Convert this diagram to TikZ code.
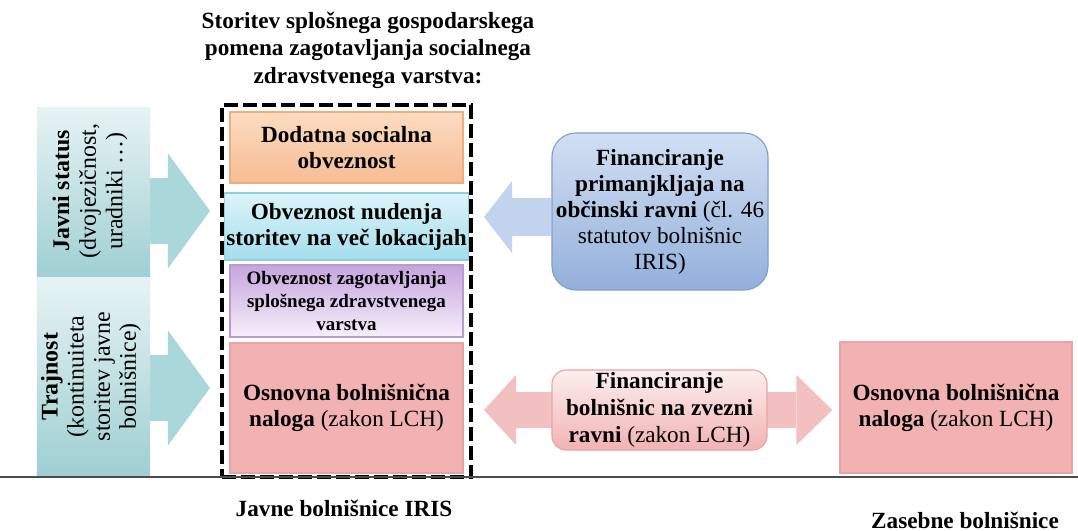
\documentclass[tikz,border=0pt]{standalone}
\usepackage{fontspec}
\setmainfont{Liberation Serif}
\usetikzlibrary{arrows.meta,backgrounds}

\definecolor{tealsv}{HTML}{E6F3F4}
\definecolor{tealtm}{HTML}{9FCFD2}
\definecolor{tealpu}{HTML}{AAD8DA}
\definecolor{oranzsv}{HTML}{FCDCC2}
\definecolor{oranztm}{HTML}{F6BC92}
\definecolor{oranzro}{HTML}{EDAE80}
\definecolor{cyansv}{HTML}{DDF3F9}
\definecolor{cyantm}{HTML}{A4DEEC}
\definecolor{cyanro}{HTML}{8ECFE2}
\definecolor{vijsv}{HTML}{F6F0FA}
\definecolor{vijtm}{HTML}{C6A4DE}
\definecolor{vijro}{HTML}{B89CD0}
\definecolor{rozsv}{HTML}{FCEFEF}
\definecolor{roztm}{HTML}{F2B2B2}
\definecolor{rozro}{HTML}{E8A4A4}
\definecolor{rozpu}{HTML}{F2C0C0}
\definecolor{modsv}{HTML}{D2DFF3}
\definecolor{modtm}{HTML}{93B0DA}
\definecolor{modro}{HTML}{809FD0}
\definecolor{modpu}{HTML}{C2D3EE}

\begin{document}
\begin{tikzpicture}[x=0.025cm, y=-0.025cm,
  okvir/.style={align=center, inner sep=1pt, line width=0.8pt,
    font=\fontsize{16.5}{18.5}\selectfont},
  napis/.style={align=center, font=\bfseries\fontsize{16.5}{19.5}\selectfont},
  tealpuscica/.style={line width=1.65cm, color=tealpu, shorten >=0.25cm,
    -{Triangle[length=1.05cm 0 0, width=2.875cm 0 0, line width=0pt 0 0]}},
  modrapuscica/.style={line width=0.95cm, color=modpu, shorten >=0.275cm,
    -{Triangle[length=0.7cm 0 0, width=1.8cm 0 0, line width=0pt 0 0]}},
  rozapuscica/.style={line width=0.875cm, color=rozpu,
    shorten <=0.275cm, shorten >=0.175cm,
    {Triangle[length=0.8cm 0 0, width=1.75cm 0 0, line width=0pt 0 0]}-{Triangle[length=0.9cm 0 0, width=1.75cm 0 0, line width=0pt 0 0]}}]
	\useasboundingbox (0,0) rectangle (1078,531);

	% Naslov
	\node[napis] (naslov) at (368,50) {Storitev splošnega gospodarskega\\pomena zagotavljanja socialnega\\zdravstvenega varstva:};

	% Javni status in trajnost
	\node[minimum width=2.825cm, minimum height=4.25cm, top color=tealsv, bottom color=tealtm] (javni) at (93.5,193) {};
	\node[okvir, rotate=90, font=\fontsize{17}{19}\selectfont] (javnitxt) at (90,191) {\textbf{Javni status}\\(dvojezičnost,\\uradniki …)};
	\node[minimum width=2.825cm, minimum height=4.925cm, top color=tealsv, bottom color=tealtm] (trajnost) at (93.5,376.5) {};
	\node[okvir, rotate=90, font=\fontsize{17}{18.5}\selectfont] (trajnosttxt) at (91,376.5) {\textbf{Trajnost}\\(kontinuiteta\\storitev javne\\bolnišnice)};

	% Obveznosti javnih bolnisnic
	\node[okvir, draw=oranzro, top color=oranzsv, bottom color=oranztm, minimum width=5.825cm, minimum height=1.775cm] (dodatna) at (346.5,147.5) {\textbf{Dodatna socialna}\\\textbf{obveznost}};
	\node[okvir, draw=cyanro, top color=cyansv, bottom color=cyantm, minimum width=5.825cm, minimum height=1.675cm] (lokacije) at (346.5,226.5) {\textbf{Obveznost nudenja}\\\textbf{storitev na več lokacijah}};
	\node[okvir, draw=vijro, top color=vijtm, bottom color=vijsv, minimum width=5.825cm, minimum height=1.8cm, font=\fontsize{13.5}{16.5}\selectfont] (splosno) at (346.5,301) {\textbf{Obveznost zagotavljanja}\\\textbf{splošnega zdravstvenega}\\\textbf{varstva}};
	\node[okvir, draw=rozro, top color=roztm, middle color=rozsv, bottom color=roztm, minimum width=5.825cm, minimum height=3.25cm] (osnovna) at (346.5,408) {\textbf{Osnovna bolnišnična}\\\textbf{naloga} (zakon LCH)};

	% Crtkani okvir
	\node[draw, line width=2.8pt, dash pattern=on 10pt off 3.5pt, minimum width=6.225cm, minimum height=9.3cm] (iris) at (346.5,291) {};

	% Financiranje
	\node[okvir, draw=modro, top color=modsv, bottom color=modtm, rounded corners=0.6cm, minimum width=5.4cm, minimum height=3.925cm] (obcina) at (660,211.5) {\textbf{Financiranje}\\\textbf{primanjkljaja na}\\\textbf{občinski ravni} (čl. 46\\statutov bolnišnic\\IRIS)};
	\node[okvir, draw=rozro, top color=rozsv, bottom color=roztm, rounded corners=0.35cm, minimum width=5.375cm, minimum height=2cm, font=\fontsize{16.5}{19}\selectfont] (zvezna) at (659.5,410) {\textbf{Financiranje}\\\textbf{bolnišnic na zvezni}\\\textbf{ravni} (zakon LCH)};

	% Zasebne bolnisnice
	\node[okvir, draw=rozro, top color=roztm, middle color=rozsv, bottom color=roztm, minimum width=5.8cm, minimum height=3.275cm] (zasebna) at (956,407.5) {\textbf{Osnovna bolnišnična}\\\textbf{naloga} (zakon LCH)};

	% Puscice
	\begin{scope}[on background layer]
		\draw[tealpuscica] (javni.east |- 0,211) -- (iris.west |- 0,211);
		\draw[tealpuscica] (trajnost.east |- 0,388) -- (iris.west |- 0,388);
		\draw[modrapuscica] (obcina.west |- 0,217) -- (iris.east |- 0,217);
		\draw[rozapuscica] (iris.east |- 0,410) -- (zasebna.west |- 0,410);
	\end{scope}

	% Osnovna crta in oznake
	\draw[line width=1.6pt, black!70] (0,477) -- (1078,477);
	\node[napis] (javne) at (344,508) {Javne bolnišnice IRIS};
	\node[napis, anchor=base] (zasebne) at (965,528) {Zasebne bolnišnice};
\end{tikzpicture}
\end{document}
